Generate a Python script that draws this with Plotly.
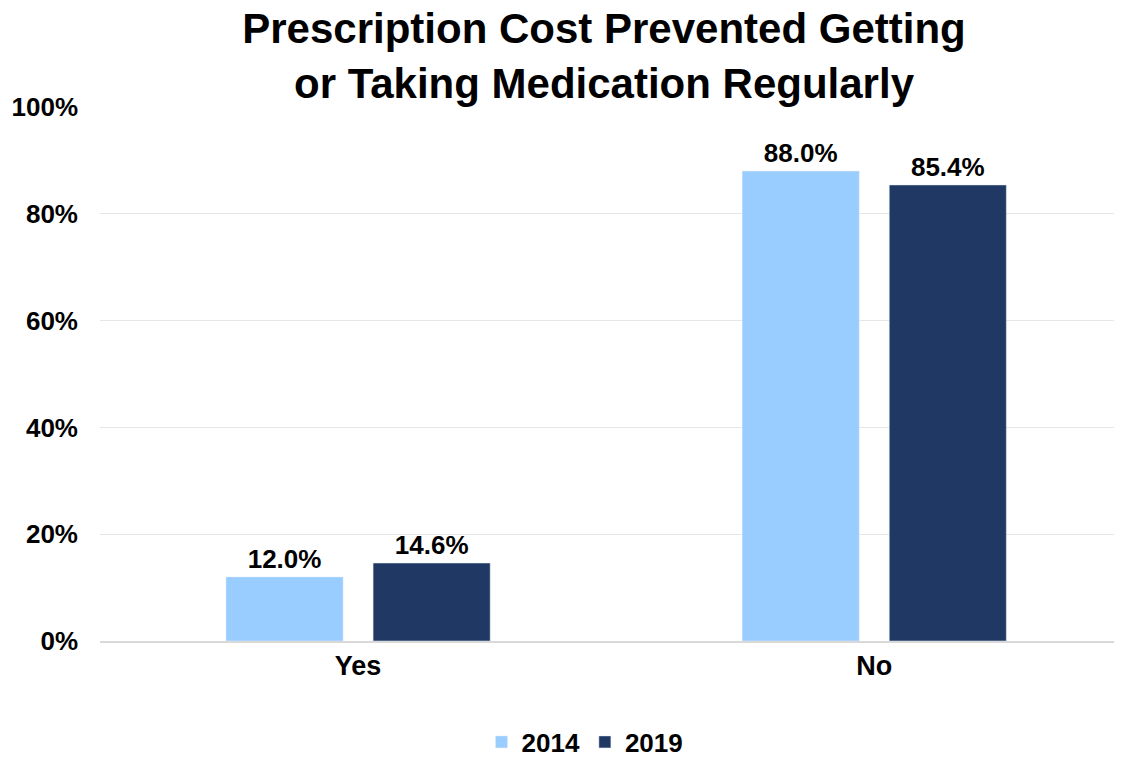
import plotly.graph_objects as go

categories = ["Yes", "No"]
years = ["2014", "2019"]
values_2014 = [12.0, 88.0]
values_2019 = [14.6, 85.4]
colors = ["#99CCFF", "#203864"]

FONT = "Liberation Sans, Arial"
W, H = 1114, 749  # page body has an 8px default margin

fig = go.Figure()
for name, vals, col in zip(years, [values_2014, values_2019], colors):
    fig.add_trace(go.Bar(
        x=categories, y=vals, name=f"<b>{name}</b>", marker_color=col,
        text=[f"{v:.1f}%" for v in vals], texttemplate="<b>%{text}</b>",
        textposition="outside",
        textfont=dict(family=FONT, size=26, color="black"),
        cliponaxis=False,
    ))

fig.update_layout(
    width=W, height=H,
    paper_bgcolor="white", plot_bgcolor="white",
    margin=dict(l=92, r=0, t=99, b=116),
    font=dict(family=FONT, color="black"),
    title=dict(
        text="<b>Prescription Cost Prevented Getting<br>or Taking Medication Regularly</b>",
        x=596 / W, xanchor="center", xref="container",
        y=1 - 35 / H, yanchor="top", yref="container",
        font=dict(size=42, color="black"),
    ),
    barmode="group", bargap=0.43, bargroupgap=0.204,
    legend=dict(orientation="h", x=577 / W, xanchor="center", xref="container",
                y=1 - 734 / H, yanchor="middle", yref="container",
                font=dict(size=26), traceorder="normal"),
    xaxis=dict(range=[-0.5, 1.48], showline=True, linecolor="#d9d9d9", linewidth=2,
               tickfont=dict(size=27), ticks="", showgrid=False, automargin=False,
               tickprefix="<b>", ticksuffix="</b>"),
    yaxis=dict(range=[0, 100], dtick=20, showgrid=True, gridcolor="#e6e6e6",
               gridwidth=1, zeroline=False, tickfont=dict(size=26), ticks="",
               ticklabelstandoff=21, automargin=False,
               tickprefix="<b>", ticksuffix="%</b>"),
)
fig.write_html("out.html")
